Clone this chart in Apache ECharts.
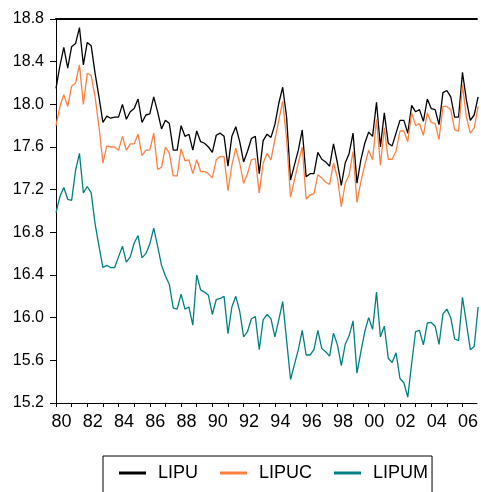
<!DOCTYPE html>
<html>
<head>
<meta charset="utf-8">
<script src="https://cdn.jsdelivr.net/npm/echarts@6/dist/echarts.min.js"></script>
<style>
html,body{margin:0;padding:0;background:#fff;}
#c{width:481px;height:492px;}
</style>
</head>
<body>
<div id="c"></div>
<script>
// Quarterly data, 1980Q1 .. 2007Q1 (index 0 = 1980Q1)
const startYear = 1980;
const seriesNames = ['LIPU', 'LIPUC', 'LIPUM'];
const LIPU = [
18.15,18.36,18.535,18.34,18.54,18.57,18.72,18.37,18.58,18.55,
18.29,18.07,17.83,17.89,17.87,17.88,17.88,18.00,17.86,17.93,
17.96,18.05,17.83,17.90,17.91,18.07,17.93,17.77,17.85,17.82,
17.57,17.57,17.80,17.70,17.72,17.57,17.75,17.65,17.635,17.60,
17.55,17.71,17.73,17.70,17.42,17.70,17.79,17.65,17.46,17.56,
17.68,17.70,17.35,17.66,17.72,17.69,17.81,18.01,18.16,17.88,
17.29,17.43,17.57,17.76,17.32,17.35,17.35,17.55,17.485,17.46,
17.42,17.63,17.45,17.24,17.45,17.54,17.73,17.26,17.48,17.635,
17.74,17.70,18.02,17.60,17.92,17.635,17.61,17.73,17.85,17.85,
17.73,17.99,17.93,17.95,17.84,18.05,17.96,17.95,17.81,18.11,
18.13,18.07,17.88,17.88,18.30,18.04,17.85,17.90,18.07
];
const LIPUC = [
17.80,17.98,18.09,17.98,18.17,18.20,18.37,18.00,18.29,18.27,
18.07,17.79,17.45,17.61,17.60,17.60,17.57,17.70,17.57,17.63,
17.63,17.72,17.52,17.57,17.57,17.73,17.39,17.41,17.60,17.54,
17.33,17.33,17.585,17.47,17.48,17.35,17.48,17.37,17.37,17.35,
17.31,17.48,17.51,17.51,17.19,17.43,17.59,17.45,17.26,17.35,
17.48,17.49,17.17,17.45,17.54,17.48,17.67,17.85,18.03,17.67,
17.13,17.29,17.45,17.60,17.11,17.15,17.16,17.34,17.31,17.27,
17.25,17.45,17.31,17.04,17.26,17.34,17.56,17.08,17.275,17.43,
17.57,17.48,17.86,17.43,17.78,17.485,17.485,17.56,17.75,17.75,
17.65,17.92,17.80,17.82,17.71,17.92,17.83,17.82,17.67,17.98,
17.98,17.95,17.76,17.75,18.18,17.88,17.73,17.78,17.98
];
const LIPUM = [
16.985,17.135,17.22,17.11,17.10,17.38,17.54,17.17,17.23,17.17,
16.88,16.67,16.47,16.49,16.47,16.47,16.57,16.67,16.52,16.57,
16.70,16.77,16.56,16.60,16.69,16.84,16.67,16.49,16.39,16.31,
16.09,16.08,16.22,16.08,16.10,15.93,16.40,16.26,16.24,16.21,
16.03,16.17,16.18,16.20,15.85,16.10,16.20,16.06,15.82,15.87,
15.99,16.01,15.70,15.98,16.03,15.99,15.82,15.98,16.15,15.79,
15.42,15.56,15.70,15.88,15.65,15.65,15.70,15.88,15.71,15.68,
15.64,15.855,15.745,15.55,15.75,15.83,15.97,15.48,15.68,15.87,
16.00,15.89,16.24,15.82,15.92,15.62,15.58,15.67,15.43,15.39,
15.255,15.57,15.87,15.88,15.745,15.95,15.955,15.92,15.75,16.035,
16.08,16.00,15.80,15.785,16.19,15.95,15.70,15.73,16.10
];
const yTicks = [15.2,15.6,16.0,16.4,16.8,17.2,17.6,18.0,18.4,18.8];
const colors = ['#000000', '#ff8040', '#008080'];

const FONT = '"Liberation Sans",Arial,sans-serif';
const toPairs = arr => arr.map((v, i) => [i, v]);
const allData = [LIPU, LIPUC, LIPUM];

const chart = echarts.init(document.getElementById('c'), null, {renderer: 'canvas'});
chart.setOption({
  animation: false,
  backgroundColor: '#ffffff',
  grid: {left: 56, right: 0, top: 19, bottom: 89, show: false},
  xAxis: [{
    type: 'value', min: 0, max: 107.7, interval: 4,
    axisLine: {show: true, onZero: false, lineStyle: {color: '#000', width: 1}},
    axisTick: {show: true, length: 4, lineStyle: {color: '#000'}},
    axisLabel: {
      show: true, showMaxLabel: false, margin: 10, color: '#000',
      fontFamily: FONT, fontSize: 18, padding: [0, 0, 0, 11],
      formatter: v => (v % 8 === 0 ? String((startYear + v / 4) % 100).padStart(2, '0') : '')
    },
    splitLine: {show: false}
  }, {
    type: 'value', position: 'top', min: 0, max: 107.7,
    axisLine: {show: true, onZero: false, lineStyle: {color: '#000', width: 2}},
    axisTick: {show: false}, axisLabel: {show: false}, splitLine: {show: false}
  }],
  yAxis: {
    type: 'value', min: yTicks[0], max: yTicks[yTicks.length - 1], interval: 0.4,
    axisLine: {show: true, onZero: false, lineStyle: {color: '#000', width: 1}},
    axisTick: {show: true, length: 6, lineStyle: {color: '#000'}},
    axisLabel: {
      margin: 12, color: '#000', fontFamily: FONT, fontSize: 16,
      formatter: v => v.toFixed(1)
    },
    splitLine: {show: false}
  },
  legend: {
    data: seriesNames,
    left: 103, top: 456,
    orient: 'horizontal',
    padding: [8, 4, 14, 16],
    borderColor: '#000', borderWidth: 1,
    itemWidth: 27, itemHeight: 3, itemGap: 22,
    icon: 'rect',
    textStyle: {color: '#000', fontFamily: FONT, fontSize: 18, padding: [0, 0, 0, 7]}
  },
  series: seriesNames.map((name, k) => ({
    name: name, type: 'line', xAxisIndex: 0,
    data: toPairs(allData[k]),
    showSymbol: false, symbol: 'none',
    lineStyle: {color: colors[k], width: 1.3},
    itemStyle: {color: colors[k]},
    clip: true
  }))
});
</script>
</body>
</html>
